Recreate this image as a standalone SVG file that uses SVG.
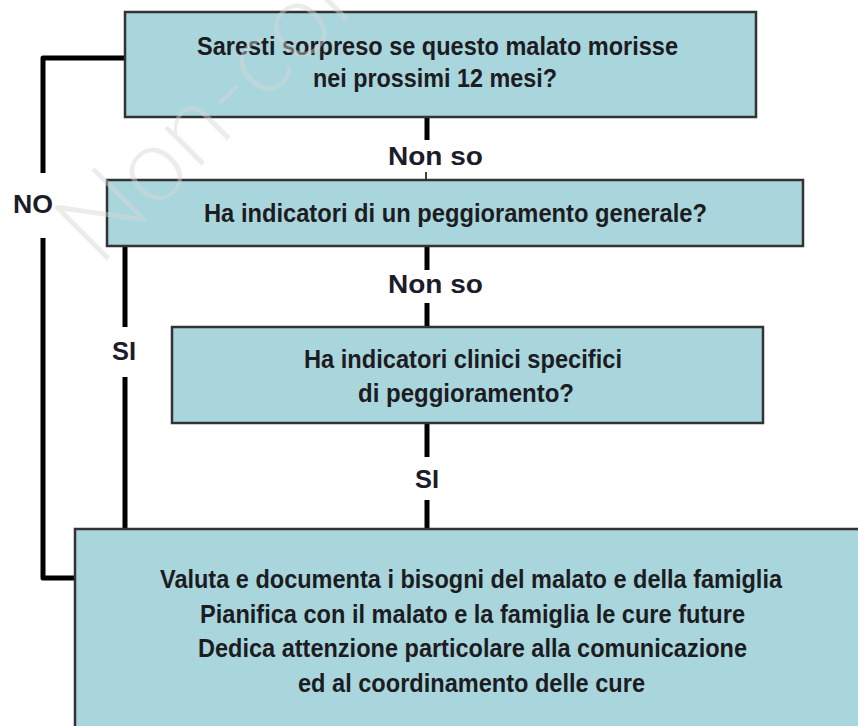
<svg xmlns="http://www.w3.org/2000/svg" width="858" height="726" viewBox="0 0 858 726">
<style>
.box{fill:#a9d6dc;stroke:#333;stroke-width:2.5}
.t{font-family:"Liberation Sans Narrow","Liberation Sans",Arial,sans-serif;font-weight:bold;font-size:26px;fill:#1c1c22}
.lbl{font-family:"Liberation Sans",Arial,sans-serif;font-weight:bold;font-size:25px;fill:#1c1c2a}
.c{fill:none;stroke:#000;stroke-width:5;stroke-linejoin:round}
.thin{fill:none;stroke:#000;stroke-width:1.5}
.wm{font-family:Lato,"Liberation Sans",sans-serif;font-weight:300;font-size:105px;fill:#d6d6d6;opacity:0.45}
</style>
<rect width="858" height="726" fill="#fff"/>
<g id="connectors">
<path class="c" d="M125,58 H43 V173"/>
<path class="c" d="M43,238 V578 H75"/>
<path class="c" d="M125,246 V327"/>
<path class="c" d="M125,377 V529"/>
<path class="c" d="M427,117 V140"/>
<path class="thin" d="M426,172 V180"/>
<path class="c" d="M427,246 V270"/>
<path class="c" d="M427,303 V327"/>
<path class="c" d="M427,423 V457"/>
<path class="c" d="M427,500 V529"/>
<text class="lbl" x="13" y="213" textLength="40" lengthAdjust="spacingAndGlyphs">NO</text>
<text class="lbl" x="112" y="360" textLength="24" lengthAdjust="spacingAndGlyphs">SI</text>
<text class="lbl" x="388" y="165" textLength="95" lengthAdjust="spacingAndGlyphs">Non  so</text>
<text class="lbl" x="388" y="293" textLength="95" lengthAdjust="spacingAndGlyphs">Non  so</text>
<text class="lbl" x="415" y="488" textLength="24" lengthAdjust="spacingAndGlyphs">SI</text>
</g>
<g id="node1">
<rect class="box" x="125" y="12" width="631" height="105"/>
<text class="t" x="197" y="55" textLength="481" lengthAdjust="spacingAndGlyphs">Saresti sorpreso se questo malato  morisse</text>
<text class="t" x="313" y="87" textLength="244" lengthAdjust="spacingAndGlyphs">nei prossimi 12 mesi?</text>
</g>
<g id="node2">
<rect class="box" x="107" y="180" width="696" height="66"/>
<text class="t" x="204" y="222" textLength="503" lengthAdjust="spacingAndGlyphs">Ha indicatori di un peggioramento generale?</text>
</g>
<g id="node3">
<rect class="box" x="172" y="327" width="591" height="96"/>
<text class="t" x="304" y="368" textLength="318" lengthAdjust="spacingAndGlyphs">Ha indicatori clinici specifici</text>
<text class="t" x="358" y="402" textLength="216" lengthAdjust="spacingAndGlyphs">di peggioramento?</text>
</g>
<g id="node4">
<rect class="box" x="75" y="529" width="800" height="220"/>
<text class="t" x="160" y="588" textLength="622" lengthAdjust="spacingAndGlyphs">Valuta e documenta i bisogni del malato e della famiglia</text>
<text class="t" x="200" y="623" textLength="545" lengthAdjust="spacingAndGlyphs">Pianifica con il malato  e la famiglia le cure future</text>
<text class="t" x="198" y="657" textLength="549" lengthAdjust="spacingAndGlyphs">Dedica attenzione particolare alla comunicazione</text>
<text class="t" x="298" y="692" textLength="347" lengthAdjust="spacingAndGlyphs">ed al coordinamento delle cure</text>
</g>
<text class="wm" x="99" y="268" transform="rotate(-45 99 268)">Non-com</text>
</svg>
